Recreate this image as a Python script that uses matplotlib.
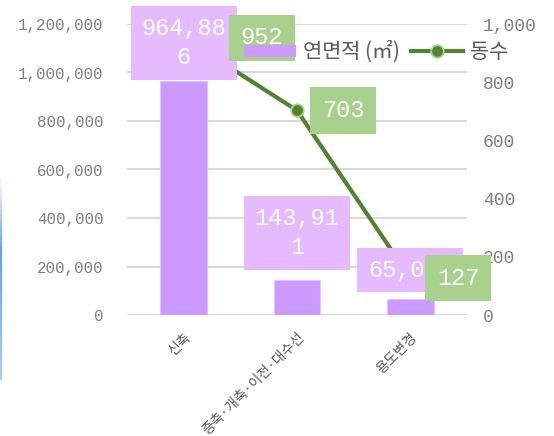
import numpy as np
import matplotlib
matplotlib.use("Agg")
import matplotlib.pyplot as plt
from matplotlib.collections import LineCollection
from matplotlib.patches import Patch
from matplotlib.lines import Line2D

# 데이터
categories = ['신축', '증축·개축·이전·대수선', '용도변경']
area_values = [964886, 143911, 65037]      # 연면적 (㎡)
count_values = [952, 703, 127]             # 동수
area_labels = ['964,88\n6', '143,91\n1', '65,037']
left_ticks = [0, 200000, 400000, 600000, 800000, 1000000, 1200000]
right_ticks = [0, 200, 400, 600, 800, 1000]

BAR = '#CC99FF'
BAR_BOX = '#E6BAFF'
LINE = '#548235'
LINE_BOX = '#A9D18E'
GRAY = '#7F7F7F'
MONO = 'Liberation Mono'
KR = ['Noto Sans CJK KR', 'DejaVu Sans']

W, H = 554, 436
fig = plt.figure(figsize=(W / 100, H / 100), dpi=100)
ax1 = fig.add_axes([127 / W, 1 - 315 / H, (467 - 127) / W, (315 - 24) / H])
ax2 = ax1.twinx()

x = np.arange(len(categories))

# 막대 (연면적)
ax1.bar(x, area_values, width=0.41, color=BAR, edgecolor='#E0C2FF', linewidth=0.8, zorder=2)
ax1.set_xlim(-0.5, 2.5)
ax1.set_ylim(0, 1200000)
ax1.set_yticks(left_ticks)
ax1.set_yticklabels([f'{v:,}' for v in left_ticks], family=MONO, fontsize=11.3, color=GRAY)
ax1.yaxis.grid(True, color='#D9D9D9', linewidth=1.5, zorder=0)
ax1.set_axisbelow(True)
ax1.tick_params(axis='y', length=0, pad=17)
ax1.set_xticks(x)
ax1.set_xticklabels(categories, rotation=45, ha='right', rotation_mode='anchor',
                    family=KR, fontsize=10, color='#595959')
ax1.tick_params(axis='x', length=0, pad=11)

# 선 (동수)
ax2.plot(x, count_values, color=LINE, linewidth=3, marker='o', markersize=9,
         markerfacecolor=LINE, markeredgecolor=LINE_BOX, markeredgewidth=1.3, zorder=2)
ax2.set_ylim(0, 1000)
ax2.set_yticks(right_ticks)
ax2.set_yticklabels([f'{v:,}' for v in right_ticks], family=MONO, fontsize=13, color=GRAY)
ax2.tick_params(axis='y', length=0, pad=11.5)

for ax in (ax1, ax2):
    for s in ax.spines.values():
        s.set_visible(False)

# 데이터 레이블 - 막대
bar_dy = [38, 47, 29]
for xi, v, lab, dy in zip(x, area_values, area_labels, bar_dy):
    ax2.annotate(lab, xy=(xi, v), xycoords=ax1.transData, xytext=(0, dy),
                 textcoords='offset pixels', ha='center', va='center',
                 multialignment='center', family=MONO, fontsize=17, color='white',
                 linespacing=1.35,
                 bbox=dict(boxstyle='square,pad=0.45', fc=BAR_BOX, ec='none'), zorder=3)

# 데이터 레이블 - 선
line_dx = [78, 46, 48]
for xi, v, dx in zip(x, count_values, line_dx):
    ax2.annotate(f'{v}', xy=(xi, v), xytext=(dx, 0), textcoords='offset pixels',
                 ha='center', va='center', family=MONO, fontsize=17, color='white',
                 bbox=dict(boxstyle='square,pad=0.5', fc=LINE_BOX, ec='none'), zorder=4)

# 범례
handles = [Patch(facecolor=BAR, edgecolor='none'),
           Line2D([], [], color=LINE, linewidth=3, marker='o', markersize=9,
                  markerfacecolor=LINE, markeredgecolor=LINE_BOX, markeredgewidth=1.3)]
leg = ax2.legend(handles, ['연면적 (㎡)', '동수'], loc='center left',
                 bbox_to_anchor=(244 / W, 1 - 52 / H), bbox_transform=fig.transFigure,
                 ncol=2, frameon=False, borderpad=0, borderaxespad=0,
                 handlelength=2.5, handleheight=0.55, handletextpad=0.35,
                 columnspacing=0.5, prop={'family': KR, 'size': 15})
for t in leg.get_texts():
    t.set_color('#595959')
leg.set_zorder(5)

# 왼쪽 가장자리 파란 선
ys = np.linspace(1 - 173 / H, 1 - 380 / H, 40)
segs = [[(0.8 / W, ys[i]), (0.8 / W, ys[i + 1])] for i in range(len(ys) - 1)]
alphas = np.concatenate([np.linspace(0.0, 0.8, 15), np.linspace(0.8, 0.45, 24)])
cols = [(0.27, 0.55, 0.85, a) for a in alphas]
fig.add_artist(LineCollection(segs, colors=cols, linewidths=1.6, transform=fig.transFigure))

fig.savefig('out.png', dpi=100)
